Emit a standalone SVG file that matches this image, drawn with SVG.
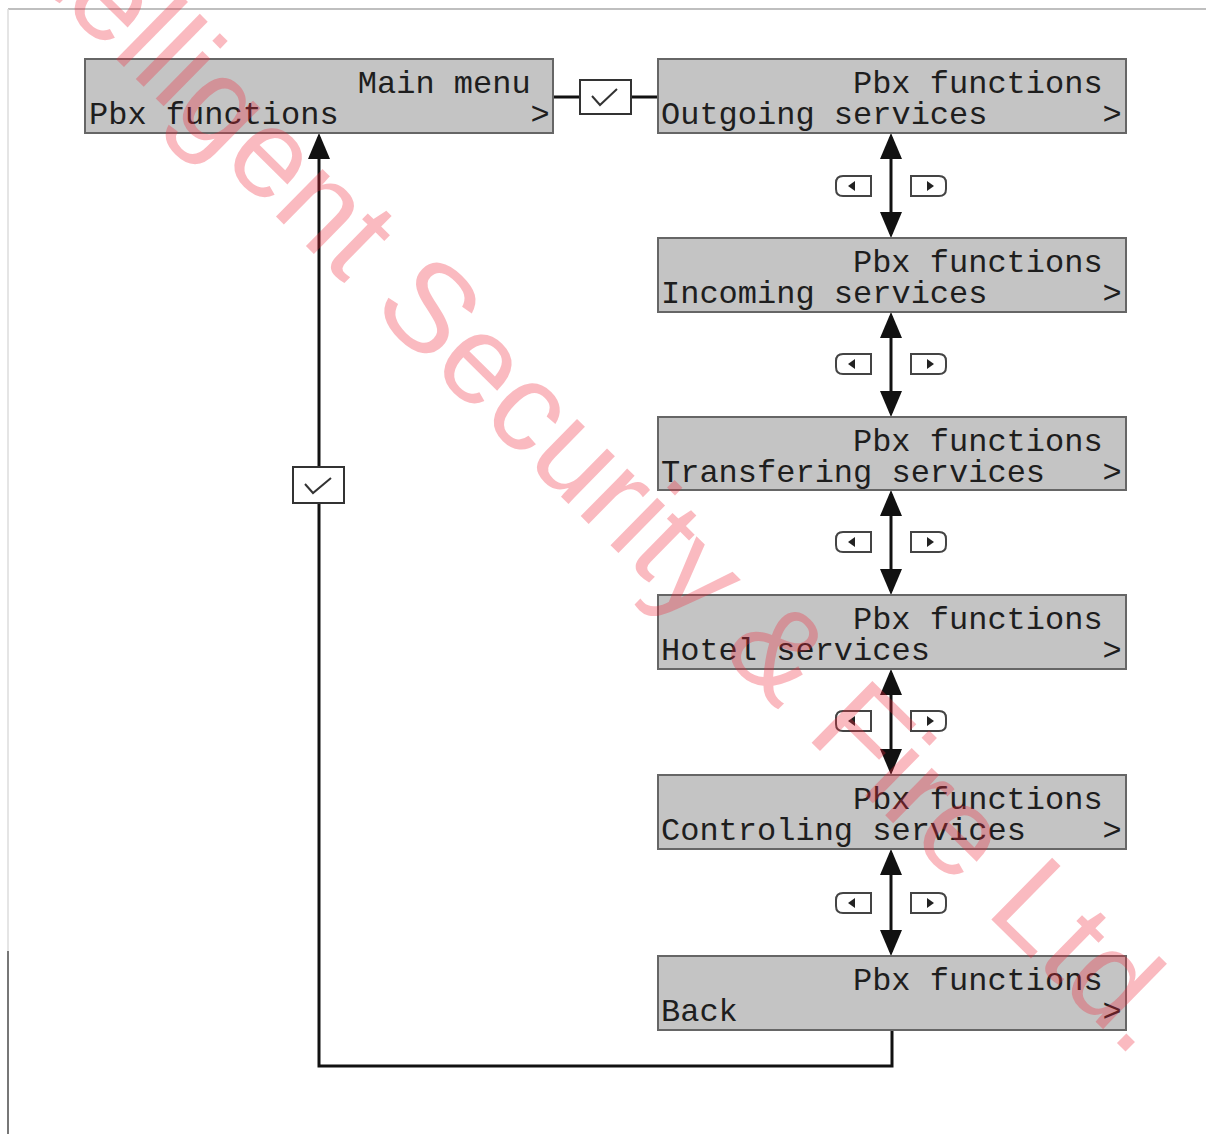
<svg xmlns="http://www.w3.org/2000/svg" width="1206" height="1134" viewBox="0 0 1206 1134">
<style>
.box{fill:#c4c4c4;stroke:#666;stroke-width:2}
.t{font-family:"Liberation Mono","DejaVu Sans Mono",monospace;font-size:32px;fill:#1e1e1e}
.e{text-anchor:end}
.con{fill:none;stroke:#111;stroke-width:3}
.chk{fill:#fff;stroke:#333;stroke-width:2}
.mark{fill:none;stroke:#333;stroke-width:2}
.btn{fill:#fff;stroke:#444;stroke-width:2}
.tri{fill:#222}
.wm{font-family:"Liberation Sans",Arial,sans-serif;font-size:126px;fill:#f0283c;fill-opacity:0.32}
</style>
<defs>
<marker id="ah" viewBox="0 0 26 22" refX="22" refY="11" markerWidth="26" markerHeight="22" markerUnits="userSpaceOnUse" orient="auto-start-reverse">
<path d="M0,0 L26,11 L0,22 Z" fill="#111"/>
</marker>
</defs>
<rect width="1206" height="1134" fill="#fff"/>
<g id="frame">
<line x1="8" y1="9" x2="1206" y2="9" stroke="#aaa" stroke-width="1.5"/>
<line x1="8" y1="9" x2="8" y2="951" stroke="#ddd" stroke-width="1.5"/>
<line x1="8" y1="951" x2="8" y2="1134" stroke="#777" stroke-width="2"/>
</g>
<g id="connectors">
<path class="con" d="M553,97 H658"/>
<path class="con" d="M892,1031 V1066 H319 V137" marker-end="url(#ah)"/>
<path class="con" d="M891,137 V234" marker-start="url(#ah)" marker-end="url(#ah)"/>
<path class="con" d="M891,316 V413" marker-start="url(#ah)" marker-end="url(#ah)"/>
<path class="con" d="M891,494 V591" marker-start="url(#ah)" marker-end="url(#ah)"/>
<path class="con" d="M891,673 V771" marker-start="url(#ah)" marker-end="url(#ah)"/>
<path class="con" d="M891,853 V952" marker-start="url(#ah)" marker-end="url(#ah)"/>
</g>
<g id="checks">
<rect class="chk" x="580" y="80" width="51" height="34"/>
<polyline class="mark" points="592,96 600,105 617,89"/>
<rect class="chk" x="293" y="467" width="51" height="36"/>
<polyline class="mark" points="305,484 313,493 331,478"/>
</g>
<g id="buttons">
<g>
<path class="btn" d="M871,176 H843 Q836,176 836,183 V189 Q836,196 843,196 H871 Z"/><path class="tri" d="M848,186 L855,181 V191 Z"/>
<path class="btn" d="M911,176 H939 Q946,176 946,183 V189 Q946,196 939,196 H911 Z"/><path class="tri" d="M934,186 L927,181 V191 Z"/>
</g>
<g transform="translate(0,178)">
<path class="btn" d="M871,176 H843 Q836,176 836,183 V189 Q836,196 843,196 H871 Z"/><path class="tri" d="M848,186 L855,181 V191 Z"/>
<path class="btn" d="M911,176 H939 Q946,176 946,183 V189 Q946,196 939,196 H911 Z"/><path class="tri" d="M934,186 L927,181 V191 Z"/>
</g>
<g transform="translate(0,356)">
<path class="btn" d="M871,176 H843 Q836,176 836,183 V189 Q836,196 843,196 H871 Z"/><path class="tri" d="M848,186 L855,181 V191 Z"/>
<path class="btn" d="M911,176 H939 Q946,176 946,183 V189 Q946,196 939,196 H911 Z"/><path class="tri" d="M934,186 L927,181 V191 Z"/>
</g>
<g transform="translate(0,535)">
<path class="btn" d="M871,176 H843 Q836,176 836,183 V189 Q836,196 843,196 H871 Z"/><path class="tri" d="M848,186 L855,181 V191 Z"/>
<path class="btn" d="M911,176 H939 Q946,176 946,183 V189 Q946,196 939,196 H911 Z"/><path class="tri" d="M934,186 L927,181 V191 Z"/>
</g>
<g transform="translate(0,717)">
<path class="btn" d="M871,176 H843 Q836,176 836,183 V189 Q836,196 843,196 H871 Z"/><path class="tri" d="M848,186 L855,181 V191 Z"/>
<path class="btn" d="M911,176 H939 Q946,176 946,183 V189 Q946,196 939,196 H911 Z"/><path class="tri" d="M934,186 L927,181 V191 Z"/>
</g>
</g>
<g id="main">
<rect class="box" x="85" y="59" width="468" height="74"/>
<text class="t e" x="530.6" y="93">Main menu</text>
<text class="t" x="89" y="124">Pbx functions</text>
<text class="t" x="530.6" y="124">&gt;</text>
</g>
<g id="outgoing">
<rect class="box" x="658" y="59" width="468" height="74"/>
<text class="t e" x="1102.6" y="93">Pbx functions</text>
<text class="t" x="661" y="124">Outgoing services</text>
<text class="t" x="1102.6" y="124">&gt;</text>
</g>
<g id="incoming">
<rect class="box" x="658" y="238" width="468" height="74"/>
<text class="t e" x="1102.6" y="272">Pbx functions</text>
<text class="t" x="661" y="303">Incoming services</text>
<text class="t" x="1102.6" y="303">&gt;</text>
</g>
<g id="transfering">
<rect class="box" x="658" y="417" width="468" height="73"/>
<text class="t e" x="1102.6" y="451">Pbx functions</text>
<text class="t" x="661" y="482">Transfering services</text>
<text class="t" x="1102.6" y="482">&gt;</text>
</g>
<g id="hotel">
<rect class="box" x="658" y="595" width="468" height="74"/>
<text class="t e" x="1102.6" y="629">Pbx functions</text>
<text class="t" x="661" y="660">Hotel services</text>
<text class="t" x="1102.6" y="660">&gt;</text>
</g>
<g id="controling">
<rect class="box" x="658" y="775" width="468" height="74"/>
<text class="t e" x="1102.6" y="809">Pbx functions</text>
<text class="t" x="661" y="840">Controling services</text>
<text class="t" x="1102.6" y="840">&gt;</text>
</g>
<g id="back">
<rect class="box" x="658" y="956" width="468" height="74"/>
<text class="t e" x="1102.6" y="990">Pbx functions</text>
<text class="t" x="661" y="1021">Back</text>
<text class="t" x="1102.6" y="1021">&gt;</text>
</g>
<g id="watermark">
<text class="wm" transform="translate(-40,-94) rotate(44.5)" x="0" y="0">Intelligent Security &amp; Fire Ltd.</text>
</g>
</svg>
